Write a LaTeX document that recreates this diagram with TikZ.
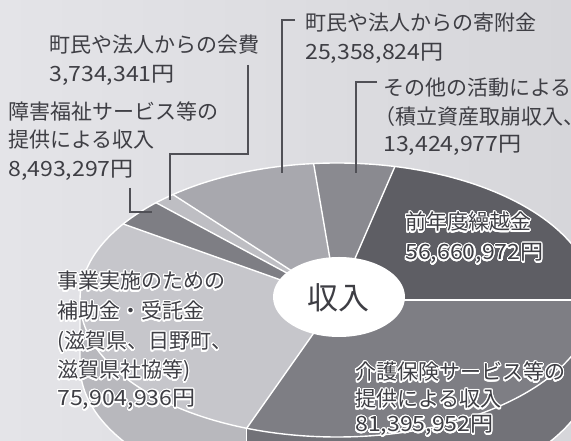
\documentclass[tikz,border=0pt]{standalone}
\usepackage{fontspec}
\setmainfont{Noto Sans CJK JP}
\newfontfamily\numfont[FakeStretch=1.1]{Noto Sans CJK JP}
\usepackage{contour}
\contourlength{1.2pt}
\contournumber{24}
\usetikzlibrary{calc}
\definecolor{bgA}{HTML}{E4E4E8}
\definecolor{bgB}{HTML}{D6D6DA}
\definecolor{txt}{HTML}{3E3E44}
\definecolor{lead}{HTML}{505056}
\definecolor{cZen}{HTML}{5E5E64}
\definecolor{cSono}{HTML}{8A8A90}
\definecolor{cKifu}{HTML}{A8A8AE}
\definecolor{cKai}{HTML}{BEBEC3}
\definecolor{cSho}{HTML}{7E7E84}
\definecolor{cJig}{HTML}{C6C6CB}
\definecolor{cKai2}{HTML}{7E7E84}
\definecolor{sJig}{HTML}{B8B8BD}
\definecolor{sKai}{HTML}{727278}
\tikzset{
  lbl/.style={anchor=base west, inner sep=0pt, text=txt, font=\fontsize{21}{30}\selectfont},
  leader/.style={draw=lead, line width=1.5pt},
  sepline/.style={draw=white, line width=1.4pt, line join=round},
  er/.style={x radius=257, y radius=137},
}
\newcommand{\slicefill}[3]{%
  \fill[#3] (C) -- ([shift={(#1:257 and 137)}]C) arc[start angle=#1, end angle=#2, er] -- cycle;}
\newcommand{\sidefill}[3]{%
  \fill[#3] ([shift={(#1:257 and 137)}]C) arc[start angle=#1, end angle=#2, er] -- ++(0,-65) arc[start angle=#2, end angle=#1, er] -- cycle;}
\begin{document}
\begin{tikzpicture}[x=1pt,y=1pt]
\useasboundingbox (0,0) rectangle (571,441);
\clip (0,0) rectangle (571,441);
\shade[left color=bgA, right color=bgB] (0,0) rectangle (571,441);
\coordinate (C) at (337,141);
% side of the pie
\sidefill{180}{249.42}{sJig}
\sidefill{249.42}{360}{sKai}
\draw[sepline] ([shift={(180:257 and 137)}]C) -- ++(0,-65) arc[start angle=180, end angle=360, er];
\draw[sepline] ([shift={(249.42:257 and 137)}]C) -- ++(0,-65);
% top slices
\slicefill{0}{76.98}{cZen}
\slicefill{76.98}{95.22}{cSono}
\slicefill{95.22}{129.67}{cKifu}
\slicefill{129.67}{134.75}{cKai}
\slicefill{134.75}{146.29}{cSho}
\slicefill{146.29}{249.42}{cJig}
\slicefill{249.42}{360}{cKai2}
\foreach \a in {0,76.98,95.22,129.67,134.75,146.29,249.42}
  \draw[sepline] (C) -- ([shift={(\a:257 and 137)}]C);
\draw[sepline] (C) ellipse[er];
% centre label
\fill[white] (339,144) ellipse[x radius=66, y radius=40];
\node[anchor=base, inner sep=0pt, text=txt, font=\fontsize{31}{34}\selectfont] (shunyu) at (338,131.5) {収入};
% leader lines
\coordinate (kf0) at (295,421); \coordinate (kf1) at (282,421); \coordinate (kf2) at (282,268);
\draw[leader] (kf0) -- (kf1) -- (kf2);
\coordinate (so0) at (377,359); \coordinate (so1) at (356,359); \coordinate (so2) at (356,268);
\draw[leader] (so0) -- (so1) -- (so2);
\coordinate (kh0) at (248,376); \coordinate (kh1) at (248,287); \coordinate (kh2) at (170,287); \coordinate (kh3) at (170,241);
\draw[leader] (kh0) -- (kh1) -- (kh2) -- (kh3);
\coordinate (sh0) at (130,253); \coordinate (sh1) at (130,229); \coordinate (sh2) at (152,229);
\draw[leader] (sh0) -- (sh1) -- (sh2);
% labels
\node[lbl] (kaihiA) at (49,388) {町民や法人からの会費};
\node[lbl] (kaihiB) at (49,359) {\numfont 3,734,341円};
\node[lbl] (shogaiA) at (8,321) {障害福祉サービス等の};
\node[lbl] (shogaiB) at (8,293) {提供による収入};
\node[lbl] (shogaiC) at (8,264) {\numfont 8,493,297円};
\node[lbl] (kifuA) at (305,410) {町民や法人からの寄附金};
\node[lbl] (kifuB) at (305,381) {\numfont 25,358,824円};
\node[lbl] (sonoA) at (383,345) {その他の活動による};
\node[lbl] (sonoB) at (374,316) {（積立資産取崩収入、};
\node[lbl] (sonoC) at (383,289) {\numfont 13,424,977円};
\node[lbl] (jigA) at (57,152) {\contour{white}{事業実施のための}};
\node[lbl] (jigB) at (57,122) {\contour{white}{補助金・受託金}};
\node[lbl] (jigC) at (57,92) {\contour{white}{(滋賀県、日野町、}};
\node[lbl] (jigD) at (57,63) {\contour{white}{滋賀県社協等)}};
\node[lbl] (jigE) at (57,35) {\numfont\contour{white}{75,904,936円}};
\node[lbl] (zenA) at (405,211) {\contour{white}{前年度繰越金}};
\node[lbl] (zenB) at (405,181) {\numfont\contour{white}{56,660,972円}};
\node[lbl] (kaigoA) at (355,61) {\contour{white}{介護保険サービス等の}};
\node[lbl] (kaigoB) at (355,34) {\contour{white}{提供による収入}};
\node[lbl] (kaigoC) at (355,9) {\numfont\contour{white}{81,395,952円}};
\end{tikzpicture}
\end{document}
